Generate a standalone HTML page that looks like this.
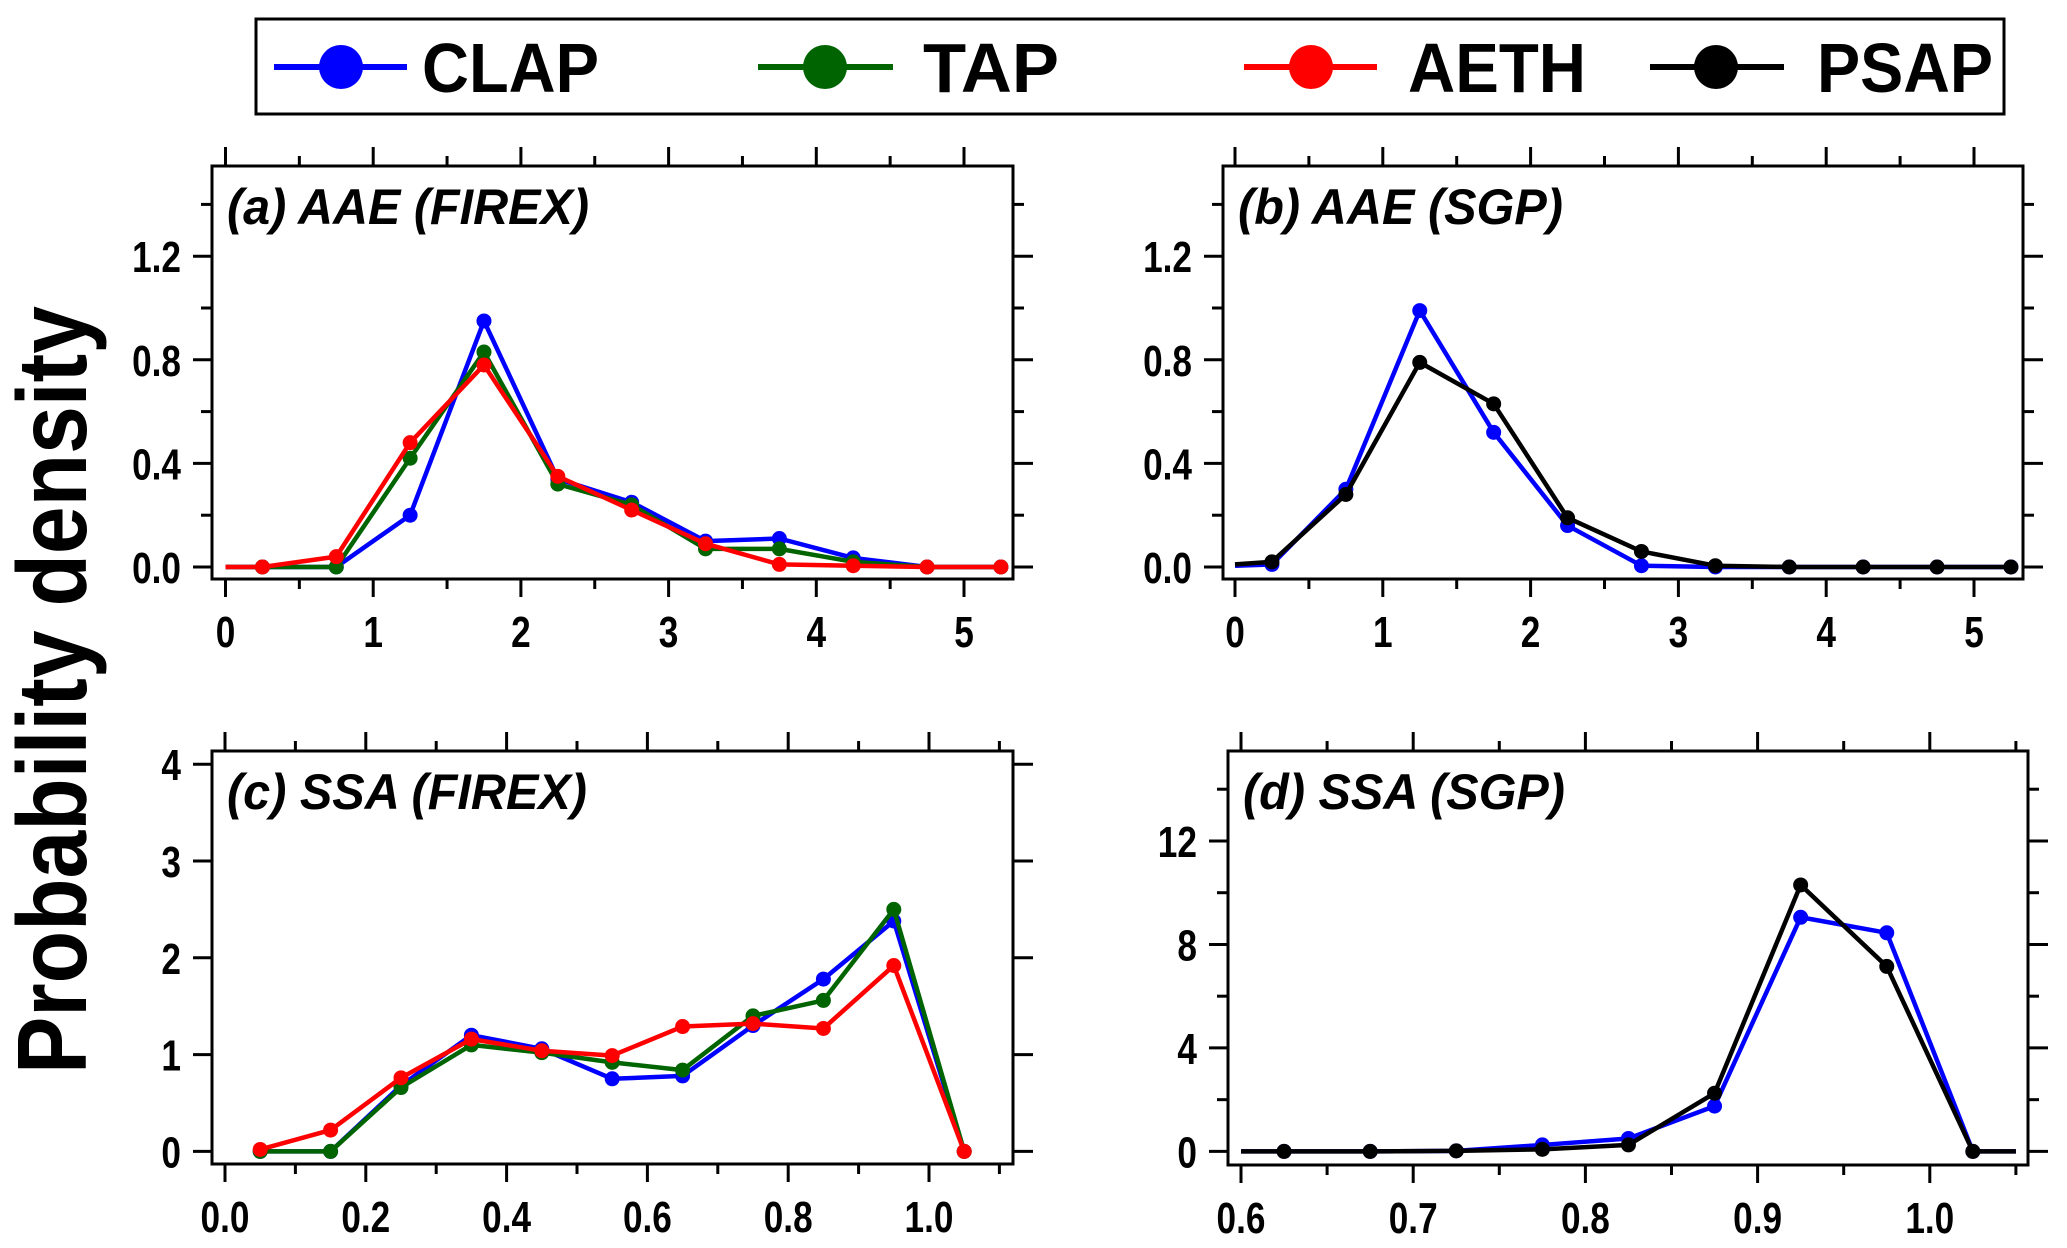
<!DOCTYPE html>
<html><head><meta charset="utf-8"><style>
html,body{margin:0;padding:0;background:#fff;}
svg{display:block;font-family:"Liberation Sans",Arial,sans-serif;}
</style></head><body>
<svg id="fig" width="2067" height="1248" viewBox="0 0 2067 1248" xmlns="http://www.w3.org/2000/svg">
<g>
<rect x="256" y="19" width="1748" height="95" fill="#fff" stroke="#000" stroke-width="3"/>
<g><line x1="274" y1="67" x2="407" y2="67" stroke="#0000ff" stroke-width="6"/><circle cx="341" cy="67" r="22" fill="#0000ff"/><text x="422" y="92" font-size="70" font-weight="bold" textLength="177" lengthAdjust="spacingAndGlyphs">CLAP</text></g>
<g><line x1="758" y1="67" x2="893" y2="67" stroke="#006400" stroke-width="6"/><circle cx="825" cy="67" r="22" fill="#006400"/><text x="923" y="92" font-size="70" font-weight="bold" textLength="136" lengthAdjust="spacingAndGlyphs">TAP</text></g>
<g><line x1="1244" y1="67" x2="1377" y2="67" stroke="#ff0000" stroke-width="6"/><circle cx="1311" cy="67" r="22" fill="#ff0000"/><text x="1408" y="92" font-size="70" font-weight="bold" textLength="178" lengthAdjust="spacingAndGlyphs">AETH</text></g>
<g><line x1="1650" y1="67" x2="1784" y2="67" stroke="#000" stroke-width="6"/><circle cx="1716" cy="67" r="22" fill="#000"/><text x="1817" y="92" font-size="70" font-weight="bold" textLength="176" lengthAdjust="spacingAndGlyphs">PSAP</text></g>
</g>
<text transform="translate(86,690) rotate(-90)" text-anchor="middle" font-size="98" font-weight="bold" textLength="768" lengthAdjust="spacingAndGlyphs">Probability density</text>
</svg>
<script>
// Panel (a) AAE FIREX
const aaeX = [0, 0.25, 0.75, 1.25, 1.75, 2.25, 2.75, 3.25, 3.75, 4.25, 4.75, 5.25];
const aClap = [0, 0, 0, 0.20, 0.95, 0.34, 0.25, 0.10, 0.11, 0.035, 0, 0];
const aTap  = [0, 0, 0, 0.42, 0.83, 0.32, 0.24, 0.07, 0.07, 0.02, 0, 0];
const aAeth = [0, 0, 0.04, 0.48, 0.78, 0.35, 0.22, 0.09, 0.01, 0.005, 0, 0];
// Panel (b) AAE SGP
const bClap = [0.005, 0.01, 0.30, 0.99, 0.52, 0.16, 0.005, 0, 0, 0, 0, 0];
const bPsap = [0.01, 0.02, 0.28, 0.79, 0.63, 0.19, 0.06, 0.005, 0, 0, 0, 0];
// Panel (c) SSA FIREX
const ssaXc = [0.05, 0.15, 0.25, 0.35, 0.45, 0.55, 0.65, 0.75, 0.85, 0.95, 1.05];
const cClap = [0, 0, 0.68, 1.20, 1.06, 0.75, 0.78, 1.30, 1.78, 2.38, 0];
const cTap  = [0, 0, 0.66, 1.10, 1.02, 0.92, 0.84, 1.40, 1.56, 2.50, 0];
const cAeth = [0.02, 0.22, 0.76, 1.16, 1.04, 0.99, 1.29, 1.32, 1.27, 1.92, 0];
// Panel (d) SSA SGP
const ssaXd = [0.6, 0.625, 0.675, 0.725, 0.775, 0.825, 0.875, 0.925, 0.975, 1.025, 1.05];
const dClap = [0, 0, 0, 0.02, 0.25, 0.50, 1.75, 9.05, 8.45, 0, 0];
const dPsap = [0, 0, 0, 0.02, 0.08, 0.25, 2.25, 10.3, 7.15, 0, 0];
// tick values
const aaeXTicks = ["0","1","2","3","4","5"];
const aaeYTicks = ["0.0","0.4","0.8","1.2"];
const cXTicks = ["0.0","0.2","0.4","0.6","0.8","1.0"];
const cYTicks = ["0","1","2","3","4"];
const dXTicks = ["0.6","0.7","0.8","0.9","1.0"];
const dYTicks = ["0","4","8","12"];

const NS = "http://www.w3.org/2000/svg";
const svg = document.getElementById("fig");
function mk(tag, attrs, parent){const e=document.createElementNS(NS,tag);for(const k in attrs)e.setAttribute(k,attrs[k]);parent.appendChild(e);return e;}
function squeeze(t, f){const w=t.getComputedTextLength();if(w>0){t.setAttribute("textLength",(w*f).toFixed(1));t.setAttribute("lengthAdjust","spacingAndGlyphs");}}

function panel(cfg){
  const g = mk("g",{},svg);
  
  
  const sx = v => cfg.x0 + (v - cfg.xmin) * cfg.xs;
  const sy = v => cfg.y0 - v * cfg.ys;
  const st = {stroke:"#000","stroke-width":3};
  const fr = mk("rect",{x:cfg.L,y:cfg.T,width:cfg.R-cfg.L,height:cfg.B-cfg.T,fill:"none",stroke:"#000","stroke-width":3},g);
  
  
  for(let v=cfg.xmin; v<=cfg.xmaxTick+1e-9; v+=cfg.xminor){
    const vv = Math.round(v*1000)/1000;
    const major = Math.abs(Math.round((vv-cfg.xmin)/cfg.xmajor)*cfg.xmajor-(vv-cfg.xmin))<1e-6;
    const x = sx(vv);
    mk("line",Object.assign({x1:x,x2:x,y1:cfg.T,y2:cfg.T-(major?19:10)},st),g);
    mk("line",Object.assign({x1:x,x2:x,y1:cfg.B,y2:cfg.B+(major?18:10)},st),g);
  }
  cfg.xticks.forEach((t,i)=>{
    const x = sx(cfg.xmin + i*cfg.xmajor);
    const tx = mk("text",{x:x,y:cfg.B+68,"text-anchor":"middle","font-size":44,"font-weight":"bold"},g);
    tx.textContent = t;
    
    
    squeeze(tx,0.8);
  });
  for(let v=0; v<=cfg.ymaxTick+1e-9; v+=cfg.yminor){
    const major = Math.abs(Math.round(v/cfg.ymajor)*cfg.ymajor - v)<1e-6;
    const y = sy(v);
    mk("line",Object.assign({x1:cfg.L,x2:cfg.L-(major?19:11),y1:y,y2:y},st),g);
    mk("line",Object.assign({x1:cfg.R,x2:cfg.R+(major?20:11),y1:y,y2:y},st),g);
  }
  cfg.yticks.forEach((t,i)=>{
    const ty = mk("text",{x:cfg.L-31,y:sy(i*cfg.ymajor)+16,"text-anchor":"end","font-size":44,"font-weight":"bold"},g);
    ty.textContent = t;
    
    
    squeeze(ty,0.8);
  });
  const tt = mk("text",{x:cfg.L+15,y:cfg.T+58,"font-size":50,"font-weight":"bold","font-style":"italic",textLength:cfg.tlen,lengthAdjust:"spacingAndGlyphs"},g);
  tt.textContent = cfg.title;
  
  
  cfg.series.forEach(s=>{
    const sg = mk("g",{},g);
    
    
    const pts = cfg.xs_data.map((xv,i)=>sx(xv)+","+sy(s.v[i])).join(" ");
    mk("polyline",{points:pts,fill:"none",stroke:s.c,"stroke-width":4.5,"stroke-linejoin":"round"},sg);
    cfg.xs_data.forEach((xv,i)=>{
      if(cfg.noMarker.includes(i)) return;
      const c = mk("circle",{cx:sx(xv),cy:sy(s.v[i]),r:7.5,fill:s.c},sg);
      
      
    });
  });
}

panel({name:"panel-a-aae-firex",L:212,R:1013,T:166,B:579,x0:225.5,xmin:0,xs:147.7,y0:567,ys:259,
  xmajor:1,xminor:0.5,xmaxTick:5.1,ymajor:0.4,yminor:0.2,ymaxTick:1.45,xticks:aaeXTicks,yticks:aaeYTicks,
  title:"(a) AAE (FIREX)",tlen:362,xs_data:aaeX,noMarker:[0],
  series:[{name:"series-clap",v:aClap,c:"#0000ff"},{name:"series-tap",v:aTap,c:"#006400"},{name:"series-aeth",v:aAeth,c:"#ff0000"}]});
panel({name:"panel-b-aae-sgp",L:1223,R:2023,T:166,B:579,x0:1235,xmin:0,xs:147.8,y0:567,ys:259,
  xmajor:1,xminor:0.5,xmaxTick:5.1,ymajor:0.4,yminor:0.2,ymaxTick:1.45,xticks:aaeXTicks,yticks:aaeYTicks,
  title:"(b) AAE (SGP)",tlen:325,xs_data:aaeX,noMarker:[0],
  series:[{name:"series-clap",v:bClap,c:"#0000ff"},{name:"series-psap",v:bPsap,c:"#000"}]});
panel({name:"panel-c-ssa-firex",L:212,R:1013,T:751,B:1164,x0:225,xmin:0,xs:704,y0:1151.4,ys:96.8,
  xmajor:0.2,xminor:0.1,xmaxTick:1.11,ymajor:1,yminor:1,ymaxTick:4.1,xticks:cXTicks,yticks:cYTicks,
  title:"(c) SSA (FIREX)",tlen:360,xs_data:ssaXc,noMarker:[],
  series:[{name:"series-clap",v:cClap,c:"#0000ff"},{name:"series-tap",v:cTap,c:"#006400"},{name:"series-aeth",v:cAeth,c:"#ff0000"}]});
panel({name:"panel-d-ssa-sgp",L:1228,R:2028,T:751,B:1165,x0:1241,xmin:0.6,xs:1722,y0:1151.4,ys:25.87,
  xmajor:0.1,xminor:0.05,xmaxTick:1.051,ymajor:4,yminor:2,ymaxTick:15,xticks:dXTicks,yticks:dYTicks,
  title:"(d) SSA (SGP)",tlen:322,xs_data:ssaXd,noMarker:[0,10],
  series:[{name:"series-clap",v:dClap,c:"#0000ff"},{name:"series-psap",v:dPsap,c:"#000"}]});
</script>
</body></html>
